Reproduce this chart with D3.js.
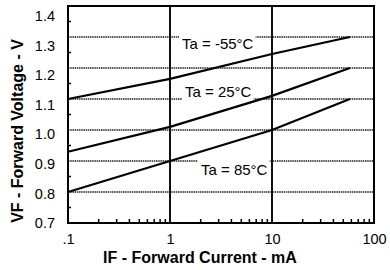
<!DOCTYPE html>
<html lang="en">
<head>
    <meta charset="UTF-8">
    <title>VF vs IF</title>
    <script src="https://d3js.org/d3.v7.min.js"></script>
    <style>
        body { margin: 0; background: #fff; }
        svg text { font-family: "Liberation Sans", Arial, Helvetica, sans-serif; fill: #000; }
        .tick-label { font-size: 14.5px; }
        .axis-title { font-size: 16px; font-weight: bold; }
        .series-label { font-size: 15px; }
    </style>
</head>
<body>
    <svg id="chart" width="390" height="270"></svg>

    <script>
        // Data (IF in mA, VF in V)
        const currents = [0.1, 1, 10, 58];
        const vfMinus55 = [1.10, 1.165, 1.245, 1.30];
        const vf25 = [0.93, 1.01, 1.11, 1.20];
        const vf85 = [0.80, 0.90, 1.00, 1.10];
        const seriesNames = ["Ta = -55°C", "Ta = 25°C", "Ta = 85°C"];

        const yTicks = [0.7, 0.8, 0.9, 1.0, 1.1, 1.2, 1.3, 1.4];
        const yTickLabels = ["0.7", "0.8", "0.9", "1.0", "1.1", "1.2", "1.3", "1.4"];
        const xTicks = [0.1, 1, 10, 100];
        const xTickLabels = [".1", "1", "10", "100"];

        const svg = d3.select("#chart");
        const plotLeft = 68, plotRight = 374, plotTop = 6, plotBottom = 223;

        const x = d3.scaleLog().domain([0.1, 100]).range([plotLeft, plotRight]);
        const y = d3.scaleLinear().domain([0.7, 1.4]).range([plotBottom, plotTop]);
        // the scanned labels sit on a slightly shorter span than the grid
        const yLabel = d3.scaleLinear().domain([0.7, 1.4]).range([plotBottom, 16]);

        // horizontal grid (dotted, scanned look)
        svg.append("g").selectAll("line")
            .data(yTicks.slice(1, -1))
            .enter().append("line")
            .attr("x1", plotLeft).attr("x2", plotRight)
            .attr("y1", d => y(d)).attr("y2", d => y(d))
            .attr("stroke", "#222")
            .attr("stroke-width", 1.5)
            .attr("stroke-dasharray", "1.5,0.7");

        // series labels with white box behind (hides grid)
        const labelPos = [[182, 49], [185, 97], [201, 175]];
        seriesNames.forEach((name, i) => {
            const g = svg.append("g");
            const t = g.append("text")
                .attr("class", "series-label")
                .attr("x", labelPos[i][0])
                .attr("y", labelPos[i][1])
                .text(name);
            const bb = t.node().getBBox();
            g.insert("rect", "text")
                .attr("x", bb.x - 3).attr("y", bb.y - 1)
                .attr("width", bb.width + 5).attr("height", bb.height + 2)
                .attr("fill", "#fff");
        });

        // vertical grid at decades
        svg.append("g").selectAll("line")
            .data(xTicks.slice(1, -1))
            .enter().append("line")
            .attr("x1", d => x(d)).attr("x2", d => x(d))
            .attr("y1", plotTop).attr("y2", plotBottom)
            .attr("stroke", "#111")
            .attr("stroke-width", 2);

        // curves
        const line = d3.line()
            .x((d, i) => x(currents[i]))
            .y(d => y(d));
        [vfMinus55, vf25, vf85].forEach(s => {
            svg.append("path")
                .datum(s)
                .attr("d", line)
                .attr("fill", "none")
                .attr("stroke", "#000")
                .attr("stroke-width", 2.2);
        });

        // minor ticks, pointing inward
        const xMinor = [];
        [0.1, 1, 10].forEach(dec => { for (let k = 2; k <= 9; k++) xMinor.push(dec * k); });
        svg.append("g").selectAll("line")
            .data(xMinor)
            .enter().append("line")
            .attr("x1", d => x(d)).attr("x2", d => x(d))
            .attr("y1", plotBottom).attr("y2", plotBottom - 4)
            .attr("stroke", "#000").attr("stroke-width", 1.5);

        const yMinor = d3.range(0.75, 1.4, 0.1);
        svg.append("g").selectAll("line")
            .data(yMinor)
            .enter().append("line")
            .attr("x1", plotLeft).attr("x2", plotLeft + 3)
            .attr("y1", d => y(d)).attr("y2", d => y(d))
            .attr("stroke", "#000").attr("stroke-width", 1.5);

        // frame
        svg.append("rect")
            .attr("x", plotLeft).attr("y", plotTop)
            .attr("width", plotRight - plotLeft).attr("height", plotBottom - plotTop)
            .attr("fill", "none")
            .attr("stroke", "#000")
            .attr("stroke-width", 2);

        // axes labels (tick lines hidden, only text)
        const yAxis = svg.append("g")
            .attr("transform", `translate(${plotLeft},0)`)
            .call(d3.axisLeft(yLabel).tickValues(yTicks).tickSize(0).tickPadding(13)
                .tickFormat((d, i) => yTickLabels[i]));
        const xAxis = svg.append("g")
            .attr("transform", `translate(0,${plotBottom})`)
            .call(d3.axisBottom(x).tickValues(xTicks).tickSize(0).tickPadding(11)
                .tickFormat((d, i) => xTickLabels[i]));
        [yAxis, xAxis].forEach(a => {
            a.select(".domain").remove();
            a.attr("font-family", null).attr("font-size", null);
            a.selectAll("text").attr("class", "tick-label").attr("fill", "#000");
        });

        // axis titles
        svg.append("text")
            .attr("class", "axis-title")
            .attr("x", 200).attr("y", 263)
            .attr("text-anchor", "middle")
            .text("IF - Forward Current - mA");
        svg.append("text")
            .attr("class", "axis-title")
            .attr("transform", "translate(23,131) rotate(-90)")
            .attr("text-anchor", "middle")
            .text("VF - Forward Voltage - V");
    </script>
</body>
</html>
